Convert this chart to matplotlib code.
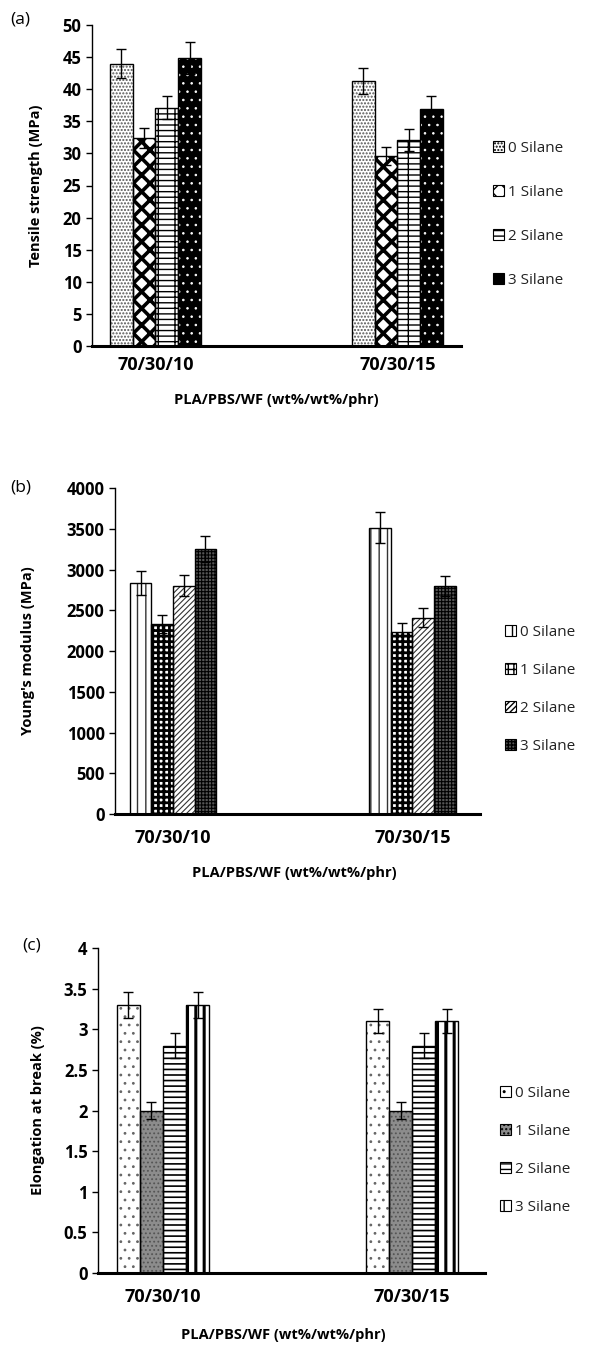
import numpy as np
import matplotlib
matplotlib.use("Agg")
import matplotlib.pyplot as plt
from matplotlib.patches import Patch
from matplotlib.ticker import FormatStrFormatter

plt.rcParams['font.family'] = ['Open Sans', 'DejaVu Sans']

groups = ['70/30/10', '70/30/15']
series = ['0 Silane', '1 Silane', '2 Silane', '3 Silane']

# tensile strength (MPa), rows = silane level, cols = blend
tensile = np.array([[44.0, 41.3], [32.4, 29.6], [37.1, 32.1], [44.9, 36.9]])
tensile_err = np.array([[2.2, 2.0], [1.6, 1.4], [1.8, 1.7], [2.5, 2.0]])

# Young's modulus (MPa)
modulus = np.array([[2835, 3515], [2330, 2235], [2800, 2410], [3255, 2800]])
modulus_err = np.array([[150, 185], [110, 110], [130, 120], [160, 125]])

# elongation at break (%)
elong = np.array([[3.3, 3.1], [2.0, 2.0], [2.8, 2.8], [3.3, 3.1]])
elong_err = np.array([[0.16, 0.15], [0.1, 0.1], [0.15, 0.15], [0.16, 0.15]])

# (facecolor, hatch, hatch colour, hatch linewidth) for each silane level
styles_a = [('white', '.....', '#555555', 1.0), ('white', 'xx', 'black', 2.6),
            ('white', '--+', 'black', 1.0), ('black', '..', 'white', 0.6)]
styles_b = [('white', '||', '#333333', 1.0), ('white', '+++', 'black', 2.0),
            ('white', '//////', '#333333', 0.8), ('#555555', '+++++', 'black', 0.8)]
styles_c = [('white', '..', '#666666', 0.8), ('#8c8c8c', '....', '#555555', 0.8),
            ('white', '---', 'black', 1.2), ('white', '||', 'black', 2.2)]

W, H = 590, 1348
fig = plt.figure(figsize=(W / 100, H / 100), dpi=100)


def panel(rect, vals, errs, styles, ylim, yticks, ylabel, xlim, bw, tag,
          tagpos, ylab_x, xlab_pos, xpad, leg_pos, leg_space):
    ax = fig.add_axes(rect)
    x = np.arange(len(groups))
    for i in range(len(series)):
        fc, hatch, hc, hlw = styles[i]
        xi = x + (i - 1.5) * bw
        with plt.rc_context({'hatch.linewidth': hlw}):
            ax.bar(xi, vals[i], bw, color=fc, hatch=hatch, edgecolor=hc,
                   linewidth=0, zorder=2)
        ax.bar(xi, vals[i], bw, fill=False, edgecolor='black',
               linewidth=1.0, zorder=3)
        ax.errorbar(xi, vals[i], yerr=errs[i], fmt='none', ecolor='black',
                    elinewidth=1.0, capsize=3.5, capthick=1.0, zorder=4)
    ax.set_xlim(*xlim)
    ax.set_ylim(*ylim)
    ax.set_yticks(yticks)
    ax.yaxis.set_major_formatter(FormatStrFormatter('%g'))
    ax.set_xticks(x)
    ax.set_xticklabels(groups, fontsize=13, fontweight='bold')
    ax.tick_params(axis='x', length=0, pad=xpad)
    ax.tick_params(axis='y', length=4, width=1, direction='out', labelsize=12)
    for lab in ax.get_yticklabels():
        lab.set_fontweight('bold')
    for s in ['top', 'right']:
        ax.spines[s].set_visible(False)
    ax.spines['left'].set_linewidth(1.0)
    ax.spines['bottom'].set_linewidth(2.2)
    ax.spines['bottom'].set_zorder(5)
    ax.set_ylabel(ylabel, fontsize=10.5, fontweight='bold')
    ax.yaxis.set_label_coords(ylab_x, 0.5)
    ax.set_xlabel('PLA/PBS/WF (wt%/wt%/phr)', fontsize=10.5, fontweight='bold')
    ax.xaxis.set_label_coords(*xlab_pos)
    fig.text(tagpos[0] / W, 1 - tagpos[1] / H, tag, fontsize=12.5,
             ha='left', va='center')

    handles = []
    for fc, h, hc, hlw in styles:
        with plt.rc_context({'hatch.linewidth': min(hlw, 1.0)}):
            handles.append(Patch(facecolor=fc, hatch=h, edgecolor='black',
                                 linewidth=0.8))
    fig.legend(handles, series, loc='upper left', frameon=False,
               bbox_to_anchor=(leg_pos[0] / W, 1 - leg_pos[1] / H),
               fontsize=11, handlelength=0.75, handleheight=0.75,
               handletextpad=0.2, labelspacing=leg_space, borderpad=0,
               borderaxespad=0, labelcolor='#222222')
    return ax


panel([92 / W, 1 - 346 / H, 369 / W, 321 / H], tensile, tensile_err, styles_a,
      (0, 50), np.arange(0, 51, 5), 'Tensile strength (MPa)',
      (-0.262, 1.263), 0.094, '(a)', (10, 19), -0.133, (0.5, -0.145), 7,
      (493, 141), 1.9)

panel([115 / W, 1 - 814 / H, 365 / W, 326 / H], modulus, modulus_err, styles_b,
      (0, 4000), np.arange(0, 4001, 500), "Young's modulus (MPa)",
      (-0.242, 1.282), 0.09, '(b)', (10, 487), -0.219, (0.49, -0.16), 11,
      (505, 625), 1.5)

panel([98 / W, 1 - 1273 / H, 387 / W, 325 / H], elong, elong_err, styles_c,
      (0, 4), np.arange(0, 4.01, 0.5), 'Elongation at break (%)',
      (-0.261, 1.293), 0.0924, '(c)', (22, 946), -0.137, (0.48, -0.17), 11,
      (500, 1086), 1.5)

fig.savefig('out.png', dpi=100)
